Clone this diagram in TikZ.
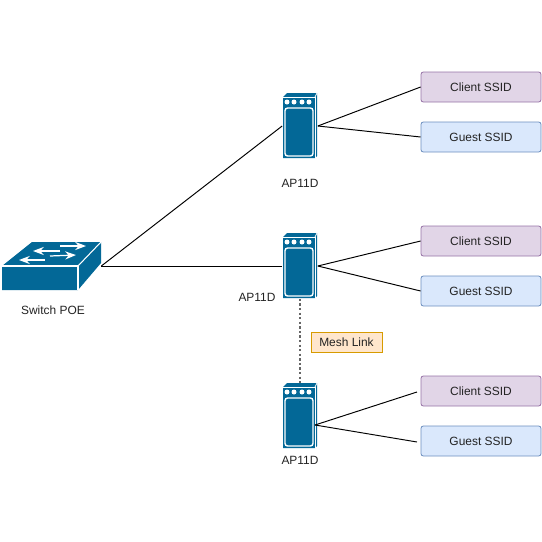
\documentclass[tikz,border=0pt]{standalone}
\usepackage{fontspec}
\setmainfont{Liberation Sans}
\usetikzlibrary{arrows.meta}
\definecolor{netblue}{RGB}{3,104,151}
\definecolor{clientfill}{RGB}{225,213,231}
\definecolor{clientdraw}{RGB}{150,115,166}
\definecolor{guestfill}{RGB}{218,232,252}
\definecolor{guestdraw}{RGB}{108,142,191}
\definecolor{meshfill}{RGB}{255,230,204}
\definecolor{meshdraw}{RGB}{215,155,0}
\definecolor{textgray}{RGB}{35,35,35}

%% access point icon: name, x, y
\newcommand{\apnode}[3]{%
  \node[apbox] (#1) at (#2,#3) {};
  \begin{scope}[shift={(#1.center)}]
    \fill[netblue] (-17,-29) -- (-13,-33) -- (17,-33) -- (17,30) -- (15,32) -- (-17,32) -- cycle;
    \draw[white, line width=0.45pt] (-17,-29) -- (15,-29) -- (15,32);
    \draw[white, line width=0.45pt] (15,-29) -- (17,-33);
    \foreach \dotx in {-13,-6,2,9}
      \fill[white] (\dotx,-24) circle (2.5);
    \draw[white, line width=0.8pt, rounded corners=1.5pt] (-15,-18) rectangle (13,30);
  \end{scope}
}

\begin{document}
\begin{tikzpicture}[
  x=0.02cm, y=-0.02cm,
  font=\fontsize{6.8}{8}\selectfont,
  >=Stealth,
  every node/.style={align=center, text=textgray},
  apbox/.style={minimum width=0.7cm, minimum height=1.3cm, inner sep=0pt},
  swbox/.style={minimum width=2cm, minimum height=0.96cm, inner sep=0pt},
  ssid/.style={draw=#1draw, fill=#1fill, rounded corners=1.3pt, line width=0.45pt,
               minimum width=2.4cm, minimum height=0.6cm, inner sep=0pt},
  meshbox/.style={draw=meshdraw, fill=meshfill, line width=0.45pt,
                  minimum width=1.42cm, minimum height=0.4cm, inner sep=0pt},
  lbl/.style={inner sep=0pt},
  netline/.style={draw=black, line width=0.55pt},
  swarrow/.style={->, draw=white, line width=0.7pt},
]
\useasboundingbox (0,0) rectangle (542,542);

%% Switch
\node[swbox] (switch) at (51,266) {};
\begin{scope}[shift={(switch.center)}]
  \fill[netblue] (-49,0) -- (-19,-24) -- (50,-24) -- (50,-3) -- (27,24) -- (-49,24) -- cycle;
  \draw[white, line width=0.6pt] (-49,0) -- (27,0) -- (27,24);
  \draw[white, line width=0.6pt] (27,0) -- (50,-24);
  \draw[swarrow] (9,-20) -- (35,-20);
  \draw[swarrow] (9,-15) -- (-18,-15);
  \draw[swarrow] (-1,-10) -- (25,-11);
  \draw[swarrow] (-6,-6) -- (-32,-6);
\end{scope}
\node[lbl] (switchlbl) at (53,310) {Switch POE};

%% Access points
\apnode{ap1}{300}{126}
\apnode{ap2}{300}{266}
\apnode{ap3}{300}{416}
\coordinate (ap3out) at (315,425);
\node[lbl] (ap1lbl) at (300,183) {AP11D};
\node[lbl] (ap2lbl) at (257,297) {AP11D};
\node[lbl] (ap3lbl) at (300,460) {AP11D};

%% SSID boxes
\node[ssid=client] (client1) at (481,87) {Client SSID};
\node[ssid=guest] (guest1) at (481,137) {Guest SSID};
\node[ssid=client] (client2) at (481,241) {Client SSID};
\node[ssid=guest] (guest2) at (481,291) {Guest SSID};
\node[ssid=client] (client3) at (481,391) {Client SSID};
\node[ssid=guest] (guest3) at (481,441) {Guest SSID};
\coordinate (client3in) at (417,392);
\coordinate (guest3in) at (417,442);

\node[meshbox] (mesh) at (346.5,342) {Mesh Link};

%% Links
\draw[netline] (switch.east) -- (ap1.west);
\draw[netline] (switch.east) -- (ap2.west);
\draw[netline] (ap1.east) -- (client1.west);
\draw[netline] (ap1.east) -- (guest1.west);
\draw[netline] (ap2.east) -- (client2.west);
\draw[netline] (ap2.east) -- (guest2.west);
\draw[netline] (ap3out) -- (client3in);
\draw[netline] (ap3out) -- (guest3in);
\draw[draw=black!60, line width=0.85pt, dash pattern=on 1.3pt off 1.3pt] (ap2.south) -- (ap3.north);

\end{tikzpicture}
\end{document}
